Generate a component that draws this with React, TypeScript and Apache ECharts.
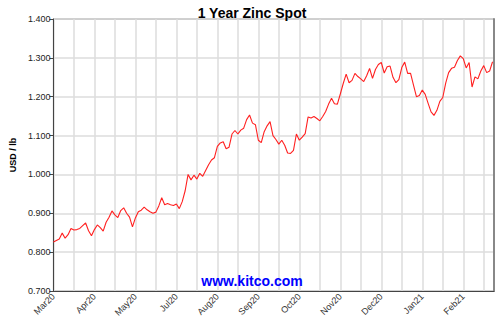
import React, { useEffect, useRef } from "react";
import * as echarts from "echarts";

const TITLE = "1 Year Zinc Spot";
const Y_NAME = "USD / lb";
const WATERMARK = "www.kitco.com";

const monthLabels = ["Mar20", "Apr20", "May20", "Jul20", "Aug20", "Sep20", "Oct20", "Nov20", "Dec20", "Jan21", "Feb21"];
const yTicks = [0.7, 0.8, 0.9, 1.0, 1.1, 1.2, 1.3, 1.4];

const zincPrices = [
  0.826, 0.830, 0.834, 0.849, 0.836, 0.845, 0.861, 0.857, 0.858, 0.861,
  0.868, 0.875, 0.855, 0.842, 0.858, 0.870, 0.863, 0.854, 0.877, 0.890,
  0.906, 0.896, 0.889, 0.907, 0.914, 0.900, 0.890, 0.865, 0.888, 0.904,
  0.908, 0.916, 0.909, 0.904, 0.900, 0.903, 0.919, 0.940, 0.922, 0.925,
  0.922, 0.920, 0.924, 0.912, 0.930, 0.958, 1.000, 0.986, 0.998, 0.988,
  1.003, 0.995, 1.010, 1.025, 1.037, 1.043, 1.072, 1.081, 1.084, 1.066,
  1.070, 1.104, 1.113, 1.104, 1.114, 1.119, 1.141, 1.153, 1.132, 1.128,
  1.088, 1.082, 1.110, 1.125, 1.136, 1.100, 1.090, 1.078, 1.088, 1.075,
  1.055, 1.054, 1.062, 1.104, 1.088, 1.096, 1.105, 1.148, 1.145, 1.149,
  1.144, 1.138, 1.149, 1.162, 1.181, 1.196, 1.182, 1.181, 1.207, 1.234,
  1.258, 1.236, 1.242, 1.260, 1.252, 1.246, 1.239, 1.254, 1.273, 1.247,
  1.270, 1.283, 1.288, 1.261, 1.277, 1.279, 1.250, 1.236, 1.244, 1.275,
  1.289, 1.260, 1.260, 1.230, 1.200, 1.203, 1.217, 1.206, 1.183, 1.161,
  1.152, 1.165, 1.188, 1.198, 1.235, 1.262, 1.273, 1.276, 1.293, 1.305,
  1.298, 1.274, 1.288, 1.225, 1.251, 1.246, 1.266, 1.280, 1.262, 1.266,
  1.290,
];

const X_STEP = 7;
const X_MAX = 150.5;

export default function App() {
  const ref = useRef<HTMLDivElement>(null);
  useEffect(() => {
    if (!ref.current) return;
    const chart = echarts.init(ref.current, null, { renderer: "svg" });
    const font = "Arial, 'Liberation Sans', Helvetica, sans-serif";
    chart.setOption({
      animation: false,
      backgroundColor: "#ffffff",
      title: {
        text: TITLE,
        left: "center",
        top: 1,
        textStyle: { fontFamily: font, fontSize: 14, fontWeight: "bold", color: "#000" },
      },
      graphic: [
        {
          type: "text",
          left: "center",
          top: 274,
          style: { text: WATERMARK, fontFamily: font, fontSize: 14, fontWeight: "bold", fill: "#0000ff" },
          z: 10,
        },
      ],
      grid: {
        left: 51,
        top: 19,
        right: 10,
        bottom: 29,
        show: true,
        borderColor: "#555",
        borderWidth: 1,
        backgroundColor: "#fff",
      },
      xAxis: {
        type: "value",
        min: 0,
        max: X_MAX,
        interval: X_STEP,
        axisLine: { show: true, onZero: false, lineStyle: { color: "#444", width: 1 } },
        axisTick: { show: false },
        splitLine: { show: true, lineStyle: { color: "#dcdcdc", width: 1.5 } },
        axisLabel: {
          rotate: 45,
          margin: 4,
          fontFamily: font,
          fontSize: 9,
          color: "#333",
          formatter: (v: number) => {
            if (v % (2 * X_STEP) !== 0) return "";
            const idx = v / (2 * X_STEP);
            return monthLabels[idx] ?? "";
          },
        },
      },
      yAxis: [
        {
          type: "value",
          min: yTicks[0],
          max: yTicks[yTicks.length - 1],
          interval: 0.1,
          name: Y_NAME,
          nameLocation: "middle",
          nameGap: 32,
          nameTextStyle: { fontFamily: font, fontSize: 9, fontWeight: "bold", color: "#000" },
          axisLine: { show: true, lineStyle: { color: "#444", width: 1 } },
          axisTick: { show: true, length: 4, lineStyle: { color: "#444" } },
          splitLine: { show: true, lineStyle: { color: "#dcdcdc", width: 1.5 } },
          axisLabel: {
            margin: 3,
            fontFamily: font,
            fontSize: 9,
            color: "#222",
            formatter: (v: number) => v.toFixed(3),
          },
        },
        {
          type: "value",
          position: "right",
          min: yTicks[0],
          max: yTicks[yTicks.length - 1],
          interval: 0.1,
          axisLine: { show: true, lineStyle: { color: "#888", width: 2 } },
          axisTick: { show: false },
          axisLabel: { show: false },
          splitLine: { show: false },
        },
      ],
      series: [
        {
          type: "line",
          data: zincPrices.map((v, i) => [i, v]),
          showSymbol: false,
          symbol: "none",
          lineStyle: { color: "#ff2020", width: 1.1 },
          z: 5,
        },
      ],
    });
    return () => chart.dispose();
  }, []);
  return (
    <div
      ref={ref}
      style={{ position: "fixed", left: 0, top: 0, width: 504, height: 320, background: "#fff" }}
    />
  );
}
